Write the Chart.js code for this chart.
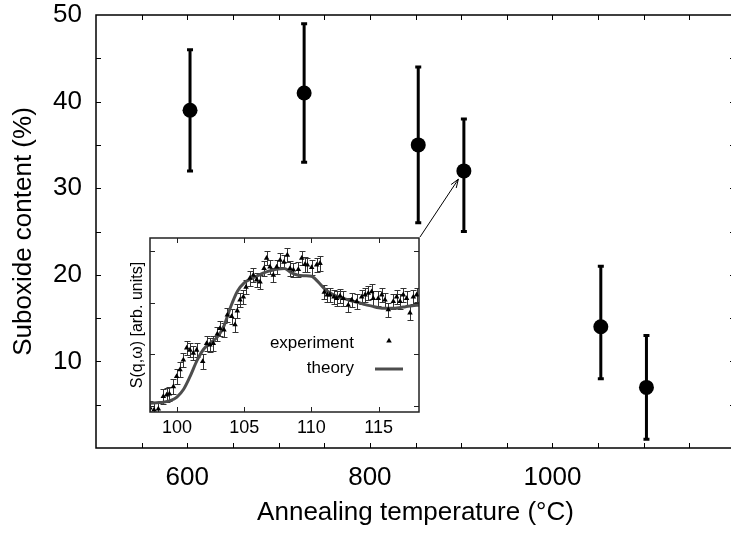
<!DOCTYPE html>
<html><head><meta charset="utf-8">
<script src="https://cdn.jsdelivr.net/npm/chart.js@4/dist/chart.umd.min.js"></script>
<style>
html,body{margin:0;padding:0;background:#fff;overflow:hidden;width:731px;height:534px;}
.wrap{position:absolute;left:0;top:0;width:746px;height:534px;}
canvas{display:block;}
</style></head><body>
<div class="wrap"><canvas id="main" width="746" height="534"></canvas></div>
<div class="wrap"><canvas id="inset" width="746" height="534"></canvas></div>
<script>
// ---- main chart data ----
const temps    = [603, 728, 853, 903, 1053, 1103];
const suboxide = [39, 41, 35, 32, 14, 7];
const errLow   = [32, 33, 26, 25, 8, 1];
const errHigh  = [46, 49, 44, 38, 21, 13];
const xLabels  = [600, 800, 1000];
const yLabels  = [10, 20, 30, 40, 50];
const xTickVals = [550,600,650,700,750,800,850,900,950,1000,1050,1100,1150];
const yTickVals = [5,10,15,20,25,30,35,40,45];

// ---- inset data ----
const qExp = [98.0, 98.3, 98.62, 98.99, 99.24, 99.44, 99.74, 99.98, 100.23, 100.48,
  100.73, 100.97, 101.22, 101.47, 101.92, 102.21, 102.46, 102.71, 103.0, 103.2,
  103.5, 103.75, 104.07, 104.32, 104.49, 104.69, 104.94, 105.14, 105.43, 105.68,
  105.93, 106.18, 106.48, 106.67, 106.92, 107.17, 107.42, 107.67, 107.96, 108.21,
  108.41, 108.66, 109.03, 109.28, 109.52, 109.7, 110.02, 110.39, 110.64, 110.96,
  111.18, 111.38, 111.68, 111.88, 112.13, 112.37, 112.74, 113.0, 113.37, 113.74,
  113.99, 114.23, 114.48, 114.6, 114.97, 115.23, 115.47, 115.72, 116.09, 116.34,
  116.59, 116.83, 117.08, 117.33, 117.58, 117.83];
const sExp = [0.96, 0.92, 0.94, 1.18, 1.21, 1.23, 1.37, 1.57, 1.70, 1.89,
  2.12, 2.08, 2.02, 2.08, 1.86, 2.21, 2.18, 2.21, 2.39, 2.50,
  2.47, 2.76, 2.73, 2.57, 2.84, 3.05, 3.11, 3.30, 3.47, 3.53,
  3.44, 3.40, 3.66, 3.86, 3.69, 3.53, 3.69, 3.82, 3.78, 3.92,
  3.66, 3.63, 3.64, 3.86, 3.74, 3.73, 3.68, 3.73, 3.76, 3.20,
  3.15, 3.15, 3.11, 3.08, 3.13, 3.08, 2.95, 3.05, 3.02, 3.11,
  3.15, 3.18, 3.21, 3.08, 3.08, 3.15, 3.05, 2.86, 3.02, 3.11,
  3.02, 3.15, 3.08, 2.80, 3.11, 3.15];
const sErr = 0.14;
const qTheory = [98.0, 98.5, 99.0, 99.5, 100.0, 100.5, 101.0, 101.5, 102.0, 102.5,
  103.0, 103.5, 104.0, 104.5, 105.0, 105.5, 106.0, 106.5, 107.0, 107.5,
  108.0, 108.5, 109.0, 109.5, 110.0, 110.5, 111.0, 111.5, 112.0, 112.5,
  113.0, 113.5, 114.0, 114.5, 115.0, 115.5, 116.0, 116.5, 117.0, 117.5, 118.0];
const sTheory = [1.05, 1.06, 1.07, 1.10, 1.17, 1.32, 1.58, 1.88, 2.10, 2.22,
  2.33, 2.55, 2.92, 3.22, 3.38, 3.46, 3.52, 3.58, 3.62, 3.65,
  3.66, 3.58, 3.53, 3.52, 3.51, 3.40, 3.26, 3.17, 3.11, 3.07,
  3.03, 3.00, 2.96, 2.93, 2.90, 2.89, 2.89, 2.90, 2.92, 2.94, 2.95];
const insetXLabels = [100, 105, 110, 115];
const insetXTickVals = [100, 105, 110, 115];
const insetYTickVals = [1, 2, 3, 4];

Chart.defaults.font.family = "'Liberation Sans', Arial, Helvetica, sans-serif";
Chart.defaults.color = '#000';

function drawFrame(chart, xt, yt, L, color, lw) {
  const {ctx, chartArea: a, scales: {x, y}} = chart;
  ctx.save();
  ctx.strokeStyle = color; ctx.lineWidth = lw;
  ctx.strokeRect(a.left, a.top, a.right - a.left, a.bottom - a.top);
  ctx.lineWidth = 1;
  ctx.beginPath();
  xt.forEach(v => {
    const px = Math.round(x.getPixelForValue(v)) + 0.5;
    ctx.moveTo(px, a.bottom); ctx.lineTo(px, a.bottom - L);
    ctx.moveTo(px, a.top); ctx.lineTo(px, a.top + L);
  });
  yt.forEach(v => {
    const py = Math.round(y.getPixelForValue(v)) + 0.5;
    ctx.moveTo(a.left, py); ctx.lineTo(a.left + L, py);
    ctx.moveTo(a.right, py); ctx.lineTo(a.right - L, py);
  });
  ctx.stroke();
  ctx.restore();
}

const mainPlugin = {
  id: 'mainPlugin',
  beforeDatasetsDraw(chart) {
    drawFrame(chart, xTickVals, yTickVals, 5, '#000', 1.5);
    const {ctx, scales: {x, y}} = chart;
    ctx.save();
    ctx.strokeStyle = '#000'; ctx.lineWidth = 3;
    temps.forEach((t, i) => {
      const px = x.getPixelForValue(t);
      const p1 = y.getPixelForValue(errLow[i]);
      const p2 = y.getPixelForValue(errHigh[i]);
      ctx.beginPath();
      ctx.moveTo(px, p1); ctx.lineTo(px, p2);
      ctx.moveTo(px - 3, p1); ctx.lineTo(px + 3, p1);
      ctx.moveTo(px - 3, p2); ctx.lineTo(px + 3, p2);
      ctx.stroke();
    });
    ctx.restore();
  }
};

const mainChart = new Chart(document.getElementById('main'), {
  type: 'scatter',
  data: { datasets: [{
    data: temps.map((t, i) => ({x: t, y: suboxide[i]})),
    pointRadius: 7.5, pointHoverRadius: 7.5,
    backgroundColor: '#000', borderColor: '#000', borderWidth: 0
  }]},
  options: {
    responsive: false, animation: false, events: [],
    layout: {padding: {top: 15, right: 11, left: 0, bottom: 0}},
    plugins: {legend: {display: false}, tooltip: {enabled: false}},
    scales: {
      x: {
        type: 'linear', min: 500, max: 1200, position: 'bottom',
        afterFit(s) { s.height = 86; s.paddingLeft = 0; s.paddingRight = 0; },
        grid: {display: false, drawTicks: false}, border: {display: false},
        ticks: {stepSize: 50, autoSkip: false, maxRotation: 0, padding: 14,
          font: {size: 26}, callback: v => xLabels.includes(v) ? String(v) : ''},
        title: {display: true, text: 'Annealing temperature (°C)', font: {size: 26},
          padding: {top: 0, bottom: 6}}
      },
      y: {
        type: 'linear', min: 0, max: 50,
        afterFit(s) { s.width = 96; s.paddingTop = 0; s.paddingBottom = 0; },
        grid: {display: false, drawTicks: false}, border: {display: false},
        ticks: {stepSize: 5, autoSkip: false, padding: 14, font: {size: 26},
          callback: v => yLabels.includes(v) ? String(v) : ''},
        title: {display: true, text: 'Suboxide content (%)', font: {size: 26},
          padding: {top: 8, bottom: 0}}
      }
    }
  },
  plugins: [mainPlugin]
});

const insetPlugin = {
  id: 'insetPlugin',
  beforeDatasetsDraw(chart) {
    const {ctx, chartArea: a, scales: {x, y}} = chart;
    ctx.save();
    ctx.fillStyle = '#fff';
    ctx.fillRect(a.left, a.top, a.right - a.left, a.bottom - a.top);
    ctx.beginPath(); ctx.rect(a.left, a.top, a.right - a.left, a.bottom - a.top); ctx.clip();
    ctx.strokeStyle = '#333'; ctx.lineWidth = 1;
    qExp.forEach((q, i) => {
      const px = Math.round(x.getPixelForValue(q)) + 0.5;
      const p1 = Math.round(y.getPixelForValue(sExp[i] - sErr)) + 0.5;
      const p2 = Math.round(y.getPixelForValue(sExp[i] + sErr)) + 0.5;
      ctx.beginPath();
      ctx.moveTo(px, p1); ctx.lineTo(px, p2);
      ctx.moveTo(px - 3, p1); ctx.lineTo(px + 3, p1);
      ctx.moveTo(px - 3, p2); ctx.lineTo(px + 3, p2);
      ctx.stroke();
    });
    ctx.restore();
  },
  afterDraw(chart) {
    const {ctx, chartArea: a} = chart;
    drawFrame(chart, insetXTickVals, insetYTickVals, 5, '#222', 1.5);
    ctx.save();
    // legend
    ctx.font = "17px 'Liberation Sans', Arial, sans-serif";
    ctx.fillStyle = '#000'; ctx.textAlign = 'right'; ctx.textBaseline = 'middle';
    ctx.fillText('experiment', a.left + 204, a.top + 105);
    ctx.fillText('theory', a.left + 204, a.top + 130);
    const tx = a.left + 239, ty = a.top + 103, r = 3.2;
    ctx.beginPath();
    ctx.moveTo(tx, ty - r);
    ctx.lineTo(tx + r * 0.866, ty + r * 0.5);
    ctx.lineTo(tx - r * 0.866, ty + r * 0.5);
    ctx.closePath(); ctx.fill();
    ctx.strokeStyle = '#4d4d4d'; ctx.lineWidth = 3;
    ctx.beginPath(); ctx.moveTo(a.left + 225, a.top + 131); ctx.lineTo(a.left + 253, a.top + 131); ctx.stroke();
    // arrow from inset corner to the 900 °C point
    const mx = mainChart.scales.x.getPixelForValue(temps[3]);
    const my = mainChart.scales.y.getPixelForValue(suboxide[3]);
    const sx = a.right + 1, sy = a.top - 1;
    const dx = mx - sx, dy = my - sy, len = Math.hypot(dx, dy);
    const ux = dx / len, uy = dy / len;
    const ex = mx - ux * 10, ey = my - uy * 10;
    ctx.strokeStyle = '#000'; ctx.lineWidth = 1;
    ctx.beginPath(); ctx.moveTo(sx, sy); ctx.lineTo(ex, ey);
    const ang = Math.atan2(uy, ux), h = 9, spread = 0.35;
    ctx.moveTo(ex, ey); ctx.lineTo(ex - h * Math.cos(ang - spread), ey - h * Math.sin(ang - spread));
    ctx.moveTo(ex, ey); ctx.lineTo(ex - h * Math.cos(ang + spread), ey - h * Math.sin(ang + spread));
    ctx.stroke();
    ctx.restore();
  }
};

const insetChart = new Chart(document.getElementById('inset'), {
  type: 'scatter',
  data: { datasets: [
    { label: 'experiment', data: qExp.map((q, i) => ({x: q, y: sExp[i]})),
      pointStyle: 'triangle', pointRadius: 3.2, pointHoverRadius: 3.2,
      backgroundColor: '#000', borderColor: '#000', borderWidth: 0, order: 0 },
    { label: 'theory', data: qTheory.map((q, i) => ({x: q, y: sTheory[i]})),
      showLine: true, borderColor: '#4d4d4d', borderWidth: 3, pointRadius: 0,
      cubicInterpolationMode: 'monotone', fill: false, order: 1 }
  ]},
  options: {
    responsive: false, animation: false, events: [],
    layout: {padding: {left: 120, top: 238, right: 327, bottom: 92}},
    plugins: {legend: {display: false}, tooltip: {enabled: false}},
    scales: {
      x: {
        type: 'linear', min: 98, max: 118,
        afterBuildTicks(s) { s.ticks = insetXTickVals.map(v => ({value: v})); },
        afterFit(s) { s.height = 30; s.paddingLeft = 0; s.paddingRight = 0; },
        grid: {display: false, drawTicks: false}, border: {display: false},
        ticks: {autoSkip: false, maxRotation: 0, padding: 5, font: {size: 18},
          callback: v => insetXLabels.includes(v) ? String(v) : ''}
      },
      y: {
        type: 'linear', min: 0.88, max: 4.25,
        afterFit(s) { s.width = 30; s.paddingTop = 0; s.paddingBottom = 0; },
        grid: {display: false, drawTicks: false}, border: {display: false},
        ticks: {display: false},
        title: {display: true, text: 'S(q,ω) [arb. units]', font: {size: 16},
          padding: {top: 8, bottom: 0}}
      }
    }
  },
  plugins: [insetPlugin]
});
</script>
</body></html>
